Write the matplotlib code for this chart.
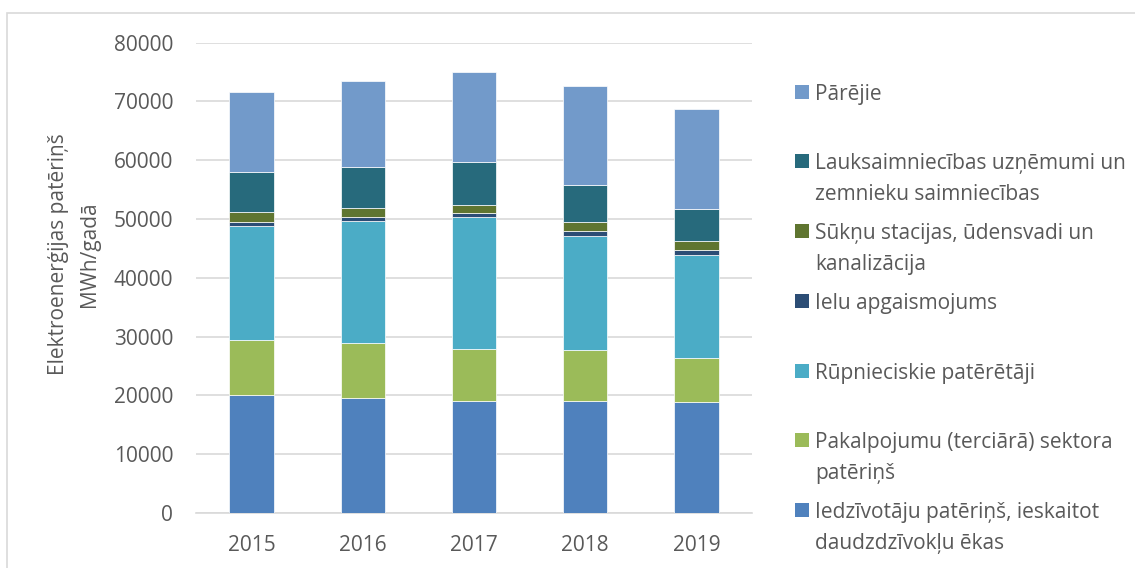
import matplotlib.pyplot as plt
from matplotlib.patches import Rectangle
import numpy as np

plt.rcParams['font.family'] = ['Open Sans', 'DejaVu Sans']

years = ['2015', '2016', '2017', '2018', '2019']

# stacked from bottom to top
series_names = [
    'Iedzīvotāju patēriņš, ieskaitot\ndaudzdzīvokļu ēkas',
    'Pakalpojumu (terciārā) sektora\npatēriņš',
    'Rūpnieciskie patērētāji',
    'Ielu apgaismojums',
    'Sūkņu stacijas, ūdensvadi un\nkanalizācija',
    'Lauksaimniecības uzņēmumi un\nzemnieku saimniecības',
    'Pārējie',
]
iedz = [20140, 19570, 19060, 19060, 18890]
pakalp = [9360, 9420, 8910, 8740, 7550]
rupn = [19290, 20650, 22300, 19400, 17530]
ielu = [740, 740, 790, 790, 790]
suknu = [1590, 1420, 1310, 1530, 1530]
lauks = [6870, 7090, 7380, 6300, 5390]
parejie = [13560, 14520, 15320, 16740, 16960]
series_values = [iedz, pakalp, rupn, ielu, suknu, lauks, parejie]

colors = ['#4F81BD', '#9BBB59', '#4BACC6', '#2C4D75', '#5F7530', '#276A7C', '#729ACA']

fig = plt.figure(figsize=(11.35, 5.68), dpi=100)
ax = fig.add_axes([196 / 1135, 1 - 513 / 568, (752 - 196) / 1135, (513 - 42.7) / 568])

# chart area border
fig.patches.append(Rectangle((7 / 1135, -0.1), 1.2, 1 - 13 / 568 + 0.1,
                             transform=fig.transFigure, fill=False,
                             edgecolor='#D9D9D9', linewidth=1.2))

x = np.arange(len(years))
bottom = np.zeros(len(years))
for vals, col in zip(series_values, colors):
    ax.bar(x, vals, 0.4, bottom=bottom, color=col, edgecolor='white', linewidth=0.5, zorder=3)
    bottom += np.array(vals)

ax.set_xlim(-0.5, len(years) - 0.5)
ax.set_ylim(0, 80000)
ax.set_yticks(range(0, 80001, 10000))
ax.set_xticks(x)
ax.set_xticklabels(years)
ax.grid(axis='y', color='#D9D9D9', linewidth=1.2, zorder=0)
for s in ['top', 'right', 'left']:
    ax.spines[s].set_visible(False)
ax.spines['bottom'].set_color('#D9D9D9')
ax.spines['bottom'].set_linewidth(1.2)
ax.tick_params(length=0, labelsize=15, colors='#595959')
ax.tick_params(axis='y', pad=16.5)
ax.tick_params(axis='x', pad=16)

fig.text(74 / 1135, 1 - 254 / 568, 'Elektroenerģijas patēriņš\nMWh/gadā', rotation=90,
         ha='center', va='center', fontsize=15, color='#595959', linespacing=1.65)

# legend, top entry first
leg_top = 91.7
step = 69.7
for i, (name, col) in enumerate(zip(series_names[::-1], colors[::-1])):
    yc = leg_top + i * step
    fig.patches.append(Rectangle((795 / 1135, 1 - (yc + 7) / 568), 14 / 1135, 14 / 568,
                                 transform=fig.transFigure, facecolor=col, edgecolor='none'))
    fig.text(815 / 1135, 1 - (yc - 8) / 568, name, ha='left', va='top',
             fontsize=15, color='#595959', linespacing=1.6)

fig.savefig('out.png', dpi=100)
